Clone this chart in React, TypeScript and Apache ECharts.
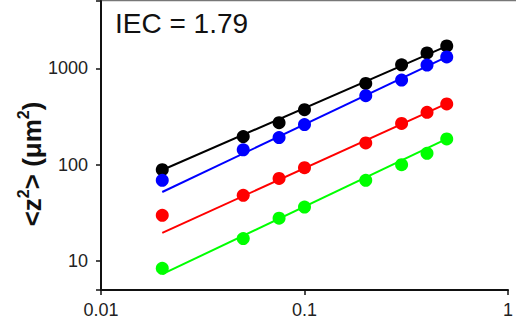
import React, { useEffect, useRef } from 'react';
import * as echarts from 'echarts';

const xValues = [0.02, 0.05, 0.075, 0.1, 0.2, 0.3, 0.4, 0.5];
const blackValues = [88.6, 196, 273, 372, 697, 1087, 1445, 1710];
const blueValues = [68.7, 142.6, 191, 261, 520, 755, 1080, 1315];
const redValues = [29.8, 48, 72, 93, 168, 268, 349, 427];
const greenValues = [8.4, 17.1, 27.8, 36.3, 68.7, 100, 131, 185];

const fitX = [0.02, 0.5];
const blackFit = [88, 1700];
const blueFit = [52, 1315];
const redFit = [19.6, 430];
const greenFit = [7.3, 185];

const yTickLabels = [10, 100, 1000];
const xTickLabels = [0.01, 0.1, 1];

const colors = { black: '#000000', blue: '#0000ff', red: '#ff0000', green: '#00ff00' };

function pairs(xs: number[], ys: number[]) {
  return xs.map((x, i) => [x, ys[i]]);
}

export default function App() {
  const ref = useRef<HTMLDivElement>(null);
  useEffect(() => {
    if (!ref.current) return;
    const chart = echarts.init(ref.current, null, { renderer: 'svg' });
    const font = '"Liberation Sans", Arial, sans-serif';
    const fits = [
      { c: colors.black, d: blackFit },
      { c: colors.blue, d: blueFit },
      { c: colors.red, d: redFit },
      { c: colors.green, d: greenFit },
    ];
    const pts = [
      { c: colors.black, d: blackValues },
      { c: colors.blue, d: blueValues },
      { c: colors.red, d: redValues },
      { c: colors.green, d: greenValues },
    ];
    chart.setOption({
      animation: false,
      grid: { left: 101, right: -1, top: 1, bottom: 36 },
      xAxis: {
        type: 'log',
        logBase: 10,
        min: 0.01,
        max: 1,
        axisLine: { lineStyle: { color: '#111', width: 2 } },
        axisTick: { length: 5, lineStyle: { color: '#111', width: 1.5 } },
        minorTick: { show: false },
        splitLine: { show: false },
        axisLabel: {
          color: '#222',
          fontSize: 18,
          fontFamily: font,
          margin: 11,
          formatter: (v: number) => {
            const m = xTickLabels.find((t) => Math.abs(t - v) / t < 1e-6);
            return m !== undefined ? String(m) : '';
          },
        },
      },
      yAxis: {
        type: 'log',
        logBase: 10,
        min: 5,
        max: 5000,
        axisLine: { lineStyle: { color: '#111', width: 2 } },
        axisTick: { length: 5, lineStyle: { color: '#111', width: 1.5 } },
        minorTick: { show: false },
        splitLine: { show: false },
        axisLabel: {
          color: '#222',
          fontSize: 18,
          fontFamily: font,
          margin: 13,
          formatter: (v: number) => {
            const m = yTickLabels.find((t) => Math.abs(t - v) / t < 1e-6);
            return m !== undefined ? String(m) : '';
          },
        },
      },
      graphic: [
        {
          type: 'line',
          shape: { x1: 101, y1: 0.5, x2: 516, y2: 0.5 },
          style: { stroke: '#777', lineWidth: 1.5 },
        },
        {
          type: 'text',
          x: 115,
          y: 37,
          style: {
            text: 'IEC = 1.79',
            font: '28px "Liberation Sans", Arial, sans-serif',
            fill: '#111',
            textVerticalAlign: 'bottom',
          },
        },
        {
          type: 'text',
          x: 30,
          y: 164,
          rotation: Math.PI / 2,
          style: {
            text: '{m|<z}{s|2}{m|> (μm}{s|2}{m|)}',
            fill: '#111',
            align: 'center',
            verticalAlign: 'middle',
            rich: {
              m: {
                fontSize: 26,
                fontWeight: 'bold',
                fontFamily: font,
                lineHeight: 30,
                verticalAlign: 'bottom',
                fill: '#111',
              },
              s: {
                fontSize: 16,
                fontWeight: 'bold',
                fontFamily: font,
                lineHeight: 30,
                verticalAlign: 'top',
                fill: '#111',
              },
            },
          },
        },
      ],
      series: [
        ...fits.map((f) => ({
          type: 'line',
          data: pairs(fitX, f.d),
          showSymbol: false,
          symbol: 'none',
          lineStyle: { color: f.c, width: 2 },
          silent: true,
          z: 2,
        })),
        ...pts.map((p) => ({
          type: 'scatter',
          data: pairs(xValues, p.d),
          symbol: 'circle',
          symbolSize: 13,
          itemStyle: { color: p.c, opacity: 1 },
          silent: true,
          z: 3,
        })),
      ],
    });
    return () => chart.dispose();
  }, []);
  return <div ref={ref} style={{ width: 516, height: 326, position: 'absolute', left: 0, top: 0 }} />;
}
